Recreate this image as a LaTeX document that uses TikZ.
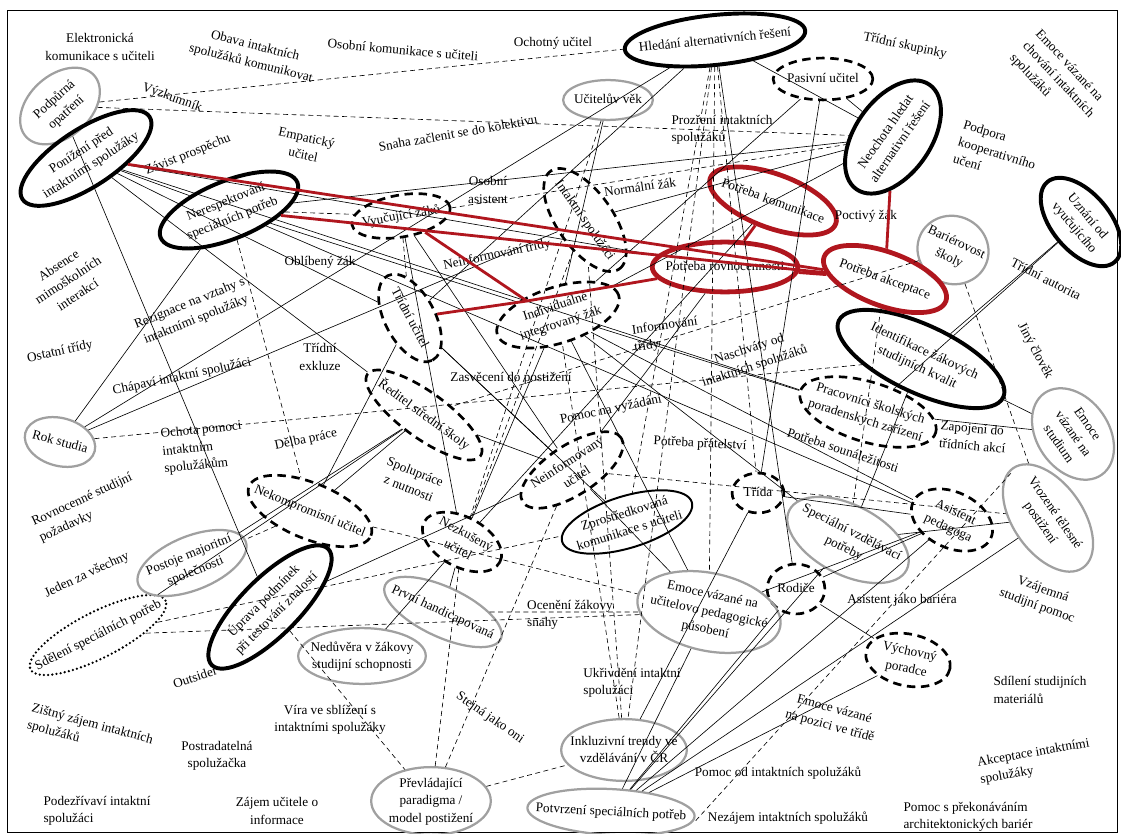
\documentclass[tikz,border=0pt]{standalone}
\usepackage{fontspec}
\setmainfont{Liberation Serif}
\usetikzlibrary{shapes.geometric}
\definecolor{needred}{RGB}{176,22,30}
\definecolor{mapgrey}{RGB}{160,160,160}
\newcommand\ct[1]{\smash{\makebox[0pt]{\raisebox{-2.5pt}{\begin{tabular}{@{}c@{}}#1\end{tabular}}}}}

\begin{document}
\begin{tikzpicture}[x=0.025cm,y=-0.025cm,font=\fontsize{9.4}{12.5}\selectfont,
ell/.style={ellipse,inner sep=0pt},
sz/.style 2 args={minimum width=#1*0.7087pt,minimum height=#2*0.7087pt},
eb/.style={ell,draw,line width=2.8pt},
et/.style={ell,draw,line width=1.4pt},
ed/.style={ell,draw,line width=1.9pt,dash pattern=on 6pt off 4pt},
eo/.style={ell,draw,line width=1.8pt,line cap=round,dash pattern=on 0pt off 3pt},
eg/.style={ell,draw=mapgrey,line width=1.6pt},
er/.style={ell,draw=needred,line width=3.4pt},
lb/.style={align=center,inner sep=1pt},
lbl/.style={align=left,inner sep=1pt},
ln/.style={line width=0.45pt},
dl/.style={line width=0.45pt,dash pattern=on 3.5pt off 2.5pt},
rl/.style={draw=needred,line width=2pt}]
\useasboundingbox (0,0) rectangle (1121,834);
\draw[line width=0.7pt] (7,10) rectangle (1117,832);
\node[eg,sz={92}{62},rotate=42] (podpurna) at (60,106) {\ct{Podpůrná\\opatření}};
\node[eb,sz={152}{58},rotate=33] (ponizeni) at (86,158) {\ct{Ponížení před\\intaktními spolužáky}};
\node[eb,sz={148}{58},rotate=22] (nerespekt) at (229,210) {\ct{Nerespektování\\speciálních potřeb}};
\node[eb,sz={182}{50},rotate=6] (hledani) at (715,40) {\ct{Hledání alternativních řešení}};
\node[eb,sz={128}{76},rotate=55] (neochota) at (893,137) {\ct{Neochota hledat\\alternativní řešení}};
\node[eb,sz={105}{58},rotate=-50] (uznani) at (1081,222) {\ct{Uznání od\\vyučujícího}};
\node[eb,sz={182}{68},rotate=-25] (identif) at (921,359) {\ct{Identifikace žákových\\studijních kvalit}};
\node[eb,sz={165}{58},rotate=45] (uprava) at (270,607) {\ct{Úprava podmínek\\při testování znalostí}};
\node[et,sz={136}{52},rotate=17] (zprostr) at (627,522) {\ct{Zprostředkovaná\\komunikace s učiteli}};
\node[ed,sz={100}{42},rotate=10] (vyucujici) at (401,216) {\ct{Vyučující žáků}};
\node[ed,sz={120}{56},rotate=-55] (intaktni) at (585,220) {\ct{Intaktní spolužáci}};
\node[ed,sz={96}{50},rotate=-62] (tridniuc) at (410,318) {\ct{Třídní učitel}};
\node[ed,sz={128}{56},rotate=18] (individ) at (558,315) {\ct{Individuálně\\integrovaný žák}};
\node[ed,sz={140}{46},rotate=-36] (reditel) at (424,415) {\ct{Ředitel střední školy}};
\node[ed,sz={118}{50},rotate=33] (neinfuc) at (572,470) {\ct{Neinformovaný\\učitel}};
\node[ed,sz={132}{56},rotate=-22] (nekomp) at (310,511) {\ct{Nekompromisní učitel}};
\node[ed,sz={86}{50},rotate=-28] (nezkus) at (462,542) {\ct{Nezkušený\\učitel}};
\node[ed,sz={100}{42}] (pasivni) at (823,79) {\ct{Pasivní učitel}};
\node[ed,sz={142}{60},rotate=-17] (pracovnici) at (868,412) {\ct{Pracovníci školských\\poradenských zařízení}};
\node[ed,sz={52}{40}] (trida) at (758,493) {\ct{Třída}};
\node[ed,sz={86}{56},rotate=-25] (asistent) at (952,520) {\ct{Asistent\\pedagoga}};
\node[ed,sz={58}{50}] (rodice) at (796,589) {\ct{Rodiče}};
\node[ed,sz={86}{52},rotate=-12] (vychovny) at (908,660) {\ct{Výchovný\\poradce}};
\node[eo,sz={152}{46},rotate=27] (sdeleni) at (98,635) {\ct{Sdělení speciálních potřeb}};
\node[eg,sz={90}{40}] (vek) at (608,100) {\ct{Učitelův věk}};
\node[eg,sz={72}{68},rotate=-25] (barierovost) at (953,250) {\ct{Bariérovost\\školy}};
\node[eg,sz={72}{48},rotate=-15] (rokstudia) at (60,442) {\ct{Rok studia}};
\node[eg,sz={100}{72},rotate=-55] (emocestud) at (1073,434) {\ct{Emoce\\vázané na\\studium}};
\node[eg,sz={122}{70},rotate=-55] (vrozene) at (1048,518) {\ct{Vrozené tělesné\\postižení}};
\node[eg,sz={132}{70},rotate=-27] (specvzd) at (848,540) {\ct{Speciální vzdělávací\\potřeby}};
\node[eg,sz={116}{54},rotate=22] (postoje) at (192,563) {\ct{Postoje majoritní\\společnosti}};
\node[eg,sz={128}{50},rotate=-25] (prvni) at (443,612) {\ct{První handicapovaná}};
\node[eg,sz={128}{56}] (neduvera) at (362,656) {\ct{Nedůvěra v žákovy\\studijní schopnosti}};
\node[eg,sz={146}{78},rotate=-12] (emoceuc) at (709,612) {\ct{Emoce vázané na\\učitelovo pedagogické\\působení}};
\node[eg,sz={126}{62}] (inkluz) at (624,750) {\ct{Inkluzivní trendy ve\\vzdělávání v ČR}};
\node[eg,sz={120}{68}] (paradigma) at (431,801) {\ct{Převládající\\paradigma /\\model postižení}};
\node[eg,sz={168}{46},rotate=-3] (potvrzeni) at (611,812) {\ct{Potvrzení speciálních potřeb}};
\node[er,sz={134}{54},rotate=-20] (komunikace) at (773,201) {\ct{Potřeba komunikace}};
\node[er,sz={146}{50}] (rovnocennost) at (725,267) {\ct{Potřeba rovnocennosti}};
\node[er,sz={130}{54},rotate=-20] (akceptace) at (885,279) {\ct{Potřeba akceptace}};
\coordinate (redhub) at (527,301);
\node[lb] (elektron) at (100,47) {Elektronická\\komunikace s učiteli};
\node[lb,rotate=-14] (obava) at (253,55) {Obava intaktních\\spolužáků komunikovat};
\node[lb,rotate=-5] (osobnikom) at (403,50) {Osobní komunikace s učiteli};
\node[lb] (ochotny) at (553,43) {Ochotný učitel};
\node[lb,rotate=-12] (skupinky) at (905,46) {Třídní skupinky};
\node[lbl,rotate=-47] (emocechov) at (1058,80) {Emoce vázané na\\chování intaktních\\spolužáků};
\node[lb,rotate=-20] (vyzkumnik) at (172,98) {Výzkumník};
\node[lb,rotate=-12] (empaticky) at (305,146) {Empatický\\učitel};
\node[lb,rotate=22] (zavist) at (188,155) {Závist prospěchu};
\node[lb,rotate=10] (snaha) at (458,133) {Snaha začlenit se do kolektivu};
\node[lb] (osobniasist) at (488,190) {Osobní\\asistent};
\node[lb,rotate=8] (normalni) at (640,187) {Normální žák};
\node[lbl] (prozreni) at (722,130) {Prozření intaktních\\spolužáků};
\node[lbl,rotate=-17] (podpora) at (997,153) {Podpora\\kooperativního\\učení};
\node[lb] (poctivy) at (866,216) {Poctivý žák};
\node[lb] (oblibeny) at (320,262) {Oblíbený žák};
\node[lb,rotate=12] (neinftridy) at (497,255) {Neinformování třídy};
\node[lb,rotate=33] (absence) at (68,280) {Absence\\mimoškolních\\interakcí};
\node[lb,rotate=22] (rezignace) at (193,312) {Rezignace na vztahy s\\intaktními spolužáky};
\node[lb,rotate=12] (ostatni) at (60,352) {Ostatní třídy};
\node[lb] (exkluze) at (320,357) {Třídní\\exkluze};
\node[lb,rotate=12] (chapavi) at (182,377) {Chápaví intaktní spolužáci};
\node[lbl,rotate=6] (ochota) at (203,448) {Ochota pomoci\\intaktním\\spolužákům};
\node[lb,rotate=12] (delba) at (306,440) {Dělba práce};
\node[lbl,rotate=25] (rovnocenne) at (86,508) {Rovnocenné studijní\\požadavky};
\node[lb,rotate=25] (jeden) at (87,575) {Jeden za všechny};
\node[lb,rotate=18] (outsider) at (195,677) {Outsider};
\node[lbl,rotate=-15] (zistny) at (90,733) {Zištný zájem intaktních\\spolužáků};
\node[lb] (postradatelna) at (217,756) {Postradatelná\\spolužačka};
\node[lbl] (podezrivavi) at (97,811) {Podezřívaví intaktní\\spolužáci};
\node[lb] (zajem) at (277,811) {Zájem učitele o\\informace};
\node[lb] (vira) at (330,720) {Víra ve sblížení s\\intaktními spolužáky};
\node[lb,rotate=-22] (spoluprace) at (412,480) {Spolupráce\\z nutnosti};
\node[lb] (zasveceni) at (511,378) {Zasvěcení do postižení};
\node[lb,rotate=12] (pomocvyz) at (611,410) {Pomoc na vyžádání};
\node[lbl,rotate=8] (informovani) at (666,335) {Informování\\třídy};
\node[lb,rotate=18] (naschvaty) at (752,358) {Naschváty od\\intaktních spolužáků};
\node[lb,rotate=-3] (pratelstvi) at (700,444) {Potřeba přátelství};
\node[lb,rotate=-18] (sounalezitost) at (843,450) {Potřeba sounáležitosti};
\node[lbl,rotate=-5] (zapojeni) at (973,437) {Zapojení do\\třídních akcí};
\node[lb,rotate=-27] (autorita) at (1046,279) {Třídní autorita};
\node[lb,rotate=-62] (jiny) at (1035,351) {Jiný člověk};
\node[lb,rotate=-20] (vzajemna) at (1040,598) {Vzájemná\\studijní pomoc};
\node[lb] (bariera) at (902,600) {Asistent jako bariéra};
\node[lbl] (sdileni) at (1040,690) {Sdílení studijních\\materiálů};
\node[lb,rotate=-15] (emocepoz) at (832,718) {Emoce vázané\\na pozici ve třídě};
\node[lbl,rotate=10] (akceptint) at (1035,762) {Akceptace intaktními\\spolužáky};
\node[lb] (pomocint) at (778,773) {Pomoc od intaktních spolužáků};
\node[lb] (nezajem) at (788,818) {Nezájem intaktních spolužáků};
\node[lbl] (prekonavani) at (968,817) {Pomoc s překonáváním\\architektonických bariér};
\node[lbl] (oceneni) at (570,615) {Ocenění žákovy\\snahy};
\node[lbl] (ukrivdeni) at (632,683) {Ukřivdění intaktní\\spolužáci};
\node[lb,rotate=-35] (stejna) at (490,718) {Stejná jako oni};
\draw[ln] (podpurna)--(uprava);
\draw[dl] (podpurna)--(hledani);
\draw[dl] (podpurna)--(neochota);
\draw[ln] (ponizeni)--(nerespekt);
\draw[ln] (ponizeni)--(rovnocennost);
\draw[ln] (ponizeni)--(tridniuc);
\draw[ln] (ponizeni)--(pracovnici);
\draw[ln] (ponizeni)--(reditel);
\draw[ln] (nerespekt)--(rokstudia);
\draw[dl] (nerespekt)--(nekomp);
\draw[ln] (nerespekt)--(neochota);
\draw[dl] (nerespekt)--(vyucujici);
\draw[ln] (nerespekt)--(individ);
\draw[ln] (nerespekt)--(asistent);
\draw[ln] (rokstudia)--(hledani);
\draw[ln] (rokstudia)--(intaktni);
\draw[dl] (rokstudia)--(identif);
\draw[ln] (hledani)--(tridniuc);
\draw[ln] (hledani)--(neochota);
\draw[dl] (hledani)--(inkluz);
\draw[dl] (hledani)--(emoceuc);
\draw[dl] (hledani)--(trida);
\draw[dl] (hledani)--(zprostr);
\draw[ln] (hledani)--(rodice);
\draw[ln] (pasivni)--(individ);
\draw[ln] (pasivni)--(neochota);
\draw[ln] (pasivni)--(trida);
\draw[ln] (vek)--(individ);
\draw[dl] (vek)--(nezkus);
\draw[ln] (individ)--(specvzd);
\draw[ln] (individ)--(pracovnici);
\draw[ln] (individ)--(nezkus);
\draw[ln] (individ)--(asistent);
\draw[ln] (individ)--(emoceuc);
\draw[ln] (individ)--(neochota);
\draw[ln] (tridniuc)--(neinfuc);
\draw[ln] (tridniuc)--(zprostr);
\draw[ln] (reditel)--(neinfuc);
\draw[ln] (nekomp)--(reditel);
\draw[ln] (nekomp)--(tridniuc);
\draw[dl] (nekomp)--(emoceuc);
\draw[dl] (nekomp)--(postoje);
\draw[ln] (uprava)--(neinfuc);
\draw[dl] (uprava)--(paradigma);
\draw[ln] (sdeleni)--(reditel);
\draw[dl] (sdeleni)--(zprostr);
\draw[dl] (sdeleni)--(emoceuc);
\draw[ln] (prvni)--(nezkus);
\draw[dl] (prvni)--(emoceuc);
\draw[ln] (neduvera)--(nezkus);
\draw[dl] (paradigma)--(neinfuc);
\draw[dl] (paradigma)--(nezkus);
\draw[dl] (paradigma)--(inkluz);
\draw[ln] (potvrzeni)--(specvzd);
\draw[ln] (potvrzeni)--(asistent);
\draw[ln] (potvrzeni)--(vrozene);
\draw[dl] ([yshift=-3pt]potvrzeni.east)--([yshift=-3pt]vrozene.west);
\draw[ln] (potvrzeni)--(vychovny);
\draw[ln] (potvrzeni)--(rodice);
\draw[ln] (potvrzeni)--(emoceuc);
\draw[ln] (rodice)--(vychovny);
\draw[ln] (rodice)--(asistent);
\draw[ln] (inkluz)--(trida);
\draw[dl] (inkluz)--(intaktni);
\draw[dl] (inkluz)--(individ);
\draw[ln] (emoceuc)--(neinfuc);
\draw[ln] (specvzd)--(identif);
\draw[dl] (neinfuc)--(vrozene);
\draw[ln] (identif)--(emocestud);
\draw[ln] (pracovnici)--(emocestud);
\draw[ln] (uznani)--(identif);
\draw[ln] (uznani)--(pracovnici);
\draw[dl] (barierovost)--(vrozene);
\draw[dl] (barierovost)--(reditel);
\draw[dl] (vyucujici)--(neochota);
\draw[ln] (intaktni)--(neochota);
\draw[dl] (vyucujici)--(tridniuc);
\draw[ln] (vyucujici)--(neinfuc);
\draw[ln] (vyucujici)--(nezkus);
\draw[dl] (intaktni)--(nezkus);
\draw[dl] (akceptace)--(specvzd);
\draw[ln] (rovnocennost)--(neinfuc);
\draw[ln] (komunikace)--(nezkus);
\draw[ln] (trida)--(asistent);
\draw[ln] (specvzd)--(vrozene);
\draw[ln] (emoceuc)--(asistent);
\draw[ln] (postoje)--(reditel);
\draw[rl] (ponizeni)--(akceptace);
\draw[rl] (nerespekt)--(akceptace);
\draw[rl] (vyucujici)--(redhub);
\draw[rl] (tridniuc)--(redhub);
\draw[rl] (redhub)--(rovnocennost);
\draw[rl] (komunikace)--(rovnocennost);
\draw[rl] (rovnocennost)--(akceptace);
\draw[rl] (neochota)--(akceptace);
\end{tikzpicture}
\end{document}
